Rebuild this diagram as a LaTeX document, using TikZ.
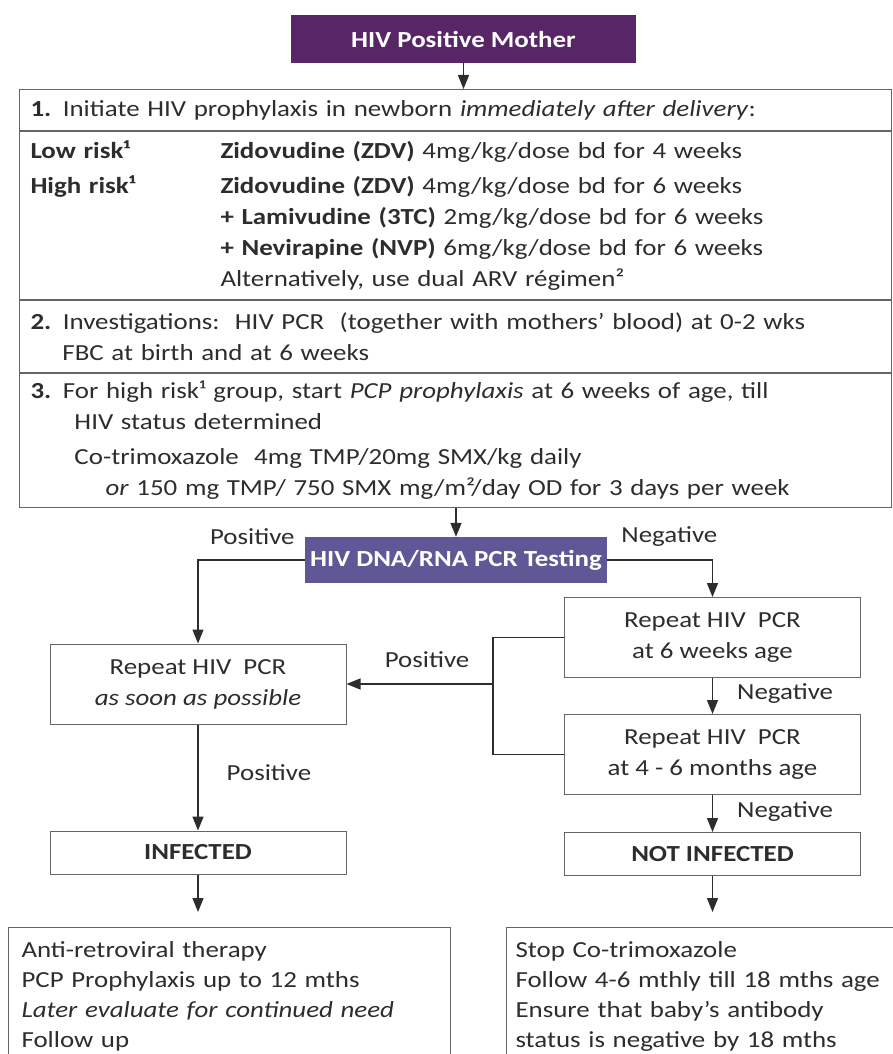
\documentclass[tikz,border=0pt]{standalone}
\usepackage{fontspec}
\setmainfont{Carlito}[FakeStretch=1.17]
\usetikzlibrary{arrows.meta,positioning,calc}

\definecolor{mothercol}{RGB}{88,38,102}
\definecolor{testcol}{RGB}{96,88,150}
\definecolor{inkcol}{RGB}{45,45,45}
\newcommand{\flowfont}{\fontsize{23}{31}\selectfont}

\begin{document}
\begin{tikzpicture}[
  x=1pt, y=-1pt,
  node distance=36pt,
  headbox/.style={rectangle, fill=mothercol, text=white, font=\flowfont\bfseries, minimum width=345pt, minimum height=48pt, inner sep=0pt},
  testbox/.style={rectangle, fill=testcol, text=white, font=\flowfont\bfseries, minimum width=302pt, minimum height=46pt, inner sep=0pt},
  panel/.style={rectangle, draw=black!60, line width=1pt, text=inkcol, font=\flowfont, align=left, text width=850pt, inner xsep=11pt, inner ysep=0pt},
  stepbox/.style={rectangle, draw=black!60, line width=1pt, text=inkcol, font=\flowfont, align=center, minimum width=296pt, minimum height=80pt},
  resultbox/.style={stepbox, minimum height=43pt, font=\flowfont\bfseries},
  planbox/.style={rectangle, draw=black!60, line width=1pt, text=inkcol, font=\fontsize{23}{30}\selectfont, align=left, anchor=north west, inner ysep=14pt},
  arrow/.style={-{Triangle[width=11pt,length=14pt]}, draw=inkcol, line width=1.4pt},
  link/.style={draw=inkcol, line width=1.4pt},
  lbl/.style={text=inkcol, font=\flowfont, inner sep=0pt}
]
\useasboundingbox (0,0) rectangle (893,1054);
\clip (0,0) rectangle (893,1054);

% Nodes
\node[headbox] (mother) at (463.5,39) {HIV Positive Mother};
\node[panel, anchor=north west, minimum height=41pt] (intro) at (19,89) {\textbf{1.} Initiate HIV prophylaxis in newborn \textit{immediately after delivery}:};
\node[panel, below=0pt of intro, minimum height=168pt] (drugs) {%
  \makebox[190pt][l]{\textbf{Low risk¹}}\textbf{Zidovudine (ZDV)} 4mg/kg/dose bd for 4 weeks\\[4pt]
  \makebox[190pt][l]{\textbf{High risk¹}}\textbf{Zidovudine (ZDV)} 4mg/kg/dose bd for 6 weeks\\
  \hspace*{190pt}\textbf{+ Lamivudine (3TC)} 2mg/kg/dose bd for 6 weeks\\
  \hspace*{190pt}\textbf{+ Nevirapine (NVP)} 6mg/kg/dose bd for 6 weeks\\
  \hspace*{190pt}Alternatively, use dual ARV régimen²};
\node[panel, below=0pt of drugs, minimum height=72pt] (tests) {%
  \textbf{2.} Investigations:\ \ HIV PCR\ \ (together with mothers’ blood) at 0-2 wks\\
  \hspace*{32pt}FBC at birth and at 6 weeks};
\node[panel, below=0pt of tests, minimum height=134pt] (pcp) {%
  \textbf{3.} For high risk¹ group, start \textit{PCP prophylaxis} at 6 weeks of age, till\\
  \hspace*{44pt}HIV status determined\\[4pt]
  \hspace*{44pt}Co-trimoxazole\ \ 4mg TMP/20mg SMX/kg daily\\
  \hspace*{75pt}\textit{or} 150 mg TMP/ 750 SMX mg/m²/day OD for 3 days per week};
\node[testbox] (pcr) at (456,560) {HIV DNA/RNA PCR Testing};
\node[stepbox] (rep6) at (712.5,637.5) {Repeat HIV\ \ PCR\\at 6 weeks age};
\node[stepbox, below=of rep6] (rep4) {Repeat HIV\ \ PCR\\at 4 - 6 months age};
\node[stepbox] (rep0) at (198,684) {Repeat HIV\ \ PCR\\\textit{as soon as possible}};
\node[resultbox, below=106pt of rep0] (infected) {INFECTED};
\node[resultbox, below=37pt of rep4] (notinf) {NOT INFECTED};
\node[planbox, text width=416pt, inner xsep=13pt] (therapy) at (8,927) {Anti-retroviral therapy\\PCP Prophylaxis up to 12 mths\\\textit{Later evaluate for continued need}\\Follow up};
\node[planbox, text width=402pt, inner xsep=9pt] (followup) at (506,927) {Stop Co-trimoxazole\\Follow 4-6 mthly till 18 mths age\\Ensure that baby’s antibody\\status is negative by 18 mths};
\coordinate (fork) at (493,684);

% Arrows
\draw[arrow] (mother.south) -- (mother.south |- intro.north);
\draw[arrow] (pcp.south -| pcr.north) -- (pcr.north);
\draw[arrow] (pcr.west) -| (rep0.north);
\draw[arrow] (pcr.east) -| (rep6.north);
\draw[arrow] (rep6) -- node[lbl, pos=0.43, right=24pt] {Negative} (rep4);
\draw[arrow] (rep4) -- node[lbl, pos=0.45, right=24pt] {Negative} (notinf);
\draw[arrow] (rep0) -- node[lbl, pos=0.45, right=28pt] {Positive} (infected);
\draw[link] (rep6.west) -- (rep6.west -| fork) -- (rep4.west -| fork) -- (rep4.west);
\draw[arrow] (fork) -- node[lbl, pos=0.45, above=16pt] {Positive} (rep0.east);
\draw[arrow, shorten >=15pt] (infected) -- (infected |- therapy.north);
\draw[arrow, shorten >=15pt] (notinf) -- (notinf |- followup.north);

% Labels
\node[lbl, left=10pt of pcr.north west] (posA) {Positive};
\node[lbl, right=14pt of pcr.north east] (negA) {Negative};

\end{tikzpicture}
\end{document}
